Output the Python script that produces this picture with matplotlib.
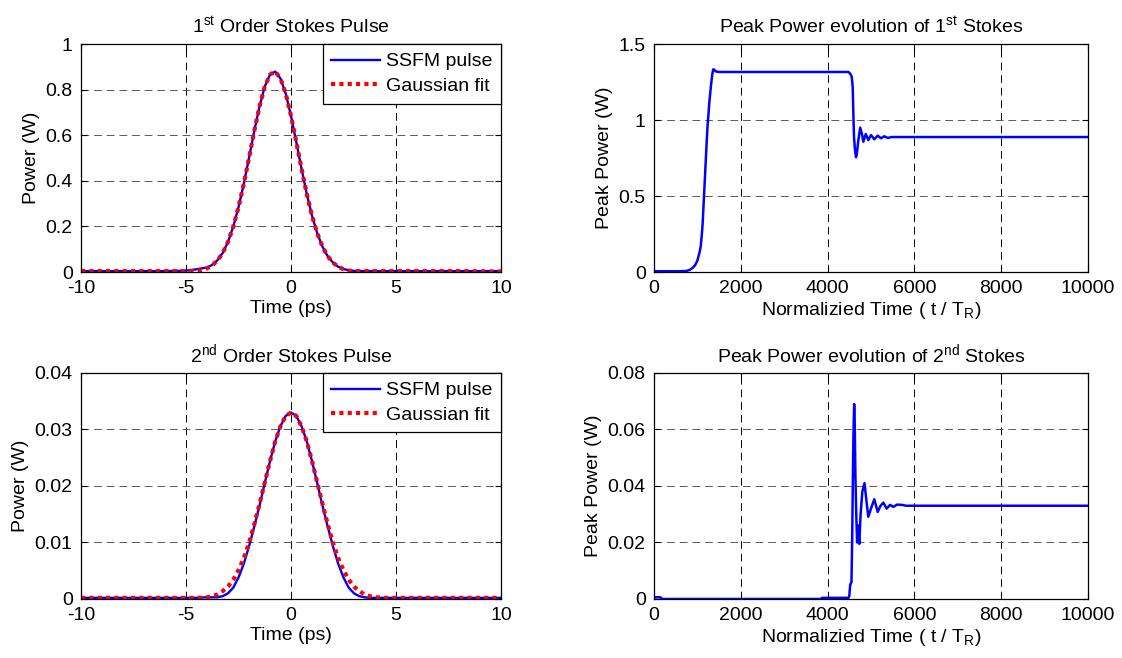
import numpy as np
import matplotlib
matplotlib.use("Agg")
import matplotlib.pyplot as plt

plt.rcParams['font.family'] = ['Liberation Sans', 'DejaVu Sans']
plt.rcParams['mathtext.default'] = 'regular'
plt.rcParams['font.size'] = 14

# ---- 1st order Stokes pulse (ps, W) ----
t1 = [-10, -9, -8, -7, -6, -5, -4.5, -4.25, -4, -3.75, -3.5, -3.25, -3, -2.75,
      -2.5, -2.25, -2, -1.75, -1.5, -1.25, -1, -0.75, -0.5, -0.25, 0, 0.25, 0.5,
      0.75, 1, 1.25, 1.5, 1.75, 2, 2.25, 2.5, 2.75, 3, 3.5, 4, 5, 6, 7, 8, 9, 10]
ssfm1 = [0.004, 0.004, 0.004, 0.004, 0.004, 0.006, 0.012, 0.016, 0.02, 0.031, 0.052,
         0.084, 0.132, 0.199, 0.284, 0.386, 0.50, 0.618, 0.726, 0.813, 0.866, 0.879,
         0.849, 0.782, 0.685, 0.571, 0.454, 0.343, 0.247, 0.170, 0.111, 0.069, 0.041,
         0.023, 0.013, 0.008, 0.005, 0.004, 0.004, 0.004, 0.004, 0.004, 0.004, 0.004, 0.004]
fit1 = [0.004, 0.004, 0.004, 0.004, 0.004, 0.004, 0.004, 0.008, 0.016, 0.029, 0.051,
        0.084, 0.132, 0.199, 0.284, 0.386, 0.50, 0.618, 0.726, 0.813, 0.866, 0.879,
        0.849, 0.782, 0.685, 0.571, 0.454, 0.343, 0.247, 0.170, 0.111, 0.069, 0.041,
        0.023, 0.012, 0.006, 0.004, 0.004, 0.004, 0.004, 0.004, 0.004, 0.004, 0.003, 0.002]

# ---- 2nd order Stokes pulse (ps, W) ----
t2 = [-10, -8, -6, -5, -4.5, -4, -3.75, -3.5, -3.25, -3, -2.75, -2.5, -2.25, -2,
      -1.75, -1.5, -1.25, -1, -0.75, -0.5, -0.25, 0, 0.25, 0.5, 0.75, 1, 1.25, 1.5,
      1.75, 2, 2.25, 2.5, 2.75, 3, 3.25, 3.5, 3.75, 4, 4.5, 5, 6, 8, 10]
ssfm2 = [0.0002, 0.0002, 0.0002, 0.0002, 0.0002, 0.0003, 0.0003, 0.0003, 0.0005, 0.0010,
         0.0020, 0.0038, 0.0062, 0.0093, 0.0128, 0.0165, 0.0205, 0.0244, 0.0279, 0.0306,
         0.0324, 0.0330, 0.0324, 0.0306, 0.0279, 0.0244, 0.0205, 0.0165, 0.0128, 0.0093,
         0.0062, 0.0038, 0.0020, 0.0010, 0.0005, 0.0003, 0.0002, 0.0002, 0.0002, 0.0002,
         0.0002, 0.0002, 0.0002]
fit2 = [0.0002, 0.0002, 0.0002, 0.0002, 0.0002, 0.0003, 0.0005, 0.0008, 0.0014, 0.0022,
        0.0034, 0.0051, 0.0072, 0.0099, 0.0132, 0.0168, 0.0206, 0.0244, 0.0279, 0.0306,
        0.0324, 0.0330, 0.0324, 0.0306, 0.0279, 0.0244, 0.0206, 0.0168, 0.0132, 0.0099,
        0.0072, 0.0051, 0.0034, 0.0022, 0.0014, 0.0008, 0.0005, 0.0003, 0.0002, 0.0002,
        0.0002, 0.0002, 0.0002]

# ---- peak power evolution, 1st Stokes ----
n1 = [0, 600, 750, 830, 900, 945, 1000, 1021, 1050, 1075, 1100, 1121, 1152, 1190,
      1229, 1275, 1313, 1344, 1367, 1390, 1421, 1500, 4480, 4520, 4555, 4578, 4593,
      4608, 4631, 4655, 4675, 4705, 4750, 4790, 4823, 4878, 4938, 5000, 5076, 5154,
      5230, 5307, 5384, 5476, 5553, 10000]
peak1 = [0.005, 0.005, 0.007, 0.015, 0.03, 0.044, 0.075, 0.10, 0.13, 0.166, 0.24,
         0.32, 0.50, 0.72, 0.94, 1.117, 1.228, 1.305, 1.334, 1.33, 1.32, 1.316, 1.316,
         1.305, 1.285, 1.219, 1.044, 0.89, 0.803, 0.755, 0.78, 0.86, 0.95, 0.91, 0.857,
         0.908, 0.868, 0.901, 0.873, 0.897, 0.88, 0.893, 0.882, 0.888, 0.888, 0.888]

# ---- peak power evolution, 2nd Stokes ----
n2 = [0, 150, 180, 3850, 3870, 4480, 4500, 4520, 4550, 4565, 4580, 4595, 4612, 4625,
      4640, 4660, 4680, 4700, 4730, 4760, 4800, 4850, 4900, 4938, 5000, 5076, 5154,
      5220, 5284, 5361, 5440, 5515, 5600, 5722, 5800, 10000]
peak2 = [0.0006, 0.0006, 0.0, 0.0, 0.0004, 0.0004, 0.001, 0.005, 0.006, 0.020, 0.040,
         0.058, 0.069, 0.062, 0.044, 0.030, 0.020, 0.026, 0.0195, 0.030, 0.038, 0.041,
         0.034, 0.0291, 0.032, 0.0353, 0.0308, 0.033, 0.0341, 0.032, 0.0333, 0.0326,
         0.0334, 0.0333, 0.0330, 0.0330]

pulse_xticks = [-10, -5, 0, 5, 10]
pulse_xlabels = ['-10', '-5', '0', '5', '10']
p1_yticks = [0, 0.2, 0.4, 0.6, 0.8, 1]
p1_ylabels = ['0', '0.2', '0.4', '0.6', '0.8', '1']
p2_yticks = [0, 0.01, 0.02, 0.03, 0.04]
p2_ylabels = ['0', '0.01', '0.02', '0.03', '0.04']
evo_xticks = [0, 2000, 4000, 6000, 8000, 10000]
evo_xlabels = ['0', '2000', '4000', '6000', '8000', '10000']
e1_yticks = [0, 0.5, 1, 1.5]
e1_ylabels = ['0', '0.5', '1', '1.5']
e2_yticks = [0, 0.02, 0.04, 0.06, 0.08]
e2_ylabels = ['0', '0.02', '0.04', '0.06', '0.08']

fig = plt.figure(figsize=(11.22, 6.58), dpi=100)
ax1 = fig.add_axes([0.0722, 0.5866, 0.3743, 0.3465])
ax2 = fig.add_axes([0.5829, 0.5866, 0.3868, 0.3465])
ax3 = fig.add_axes([0.0722, 0.0897, 0.3743, 0.3435])
ax4 = fig.add_axes([0.5829, 0.0897, 0.3868, 0.3435])


def style(ax, xt, xl, yt, yl):
    ax.set_xticks(xt)
    ax.set_xticklabels(xl)
    ax.set_yticks(yt)
    ax.set_yticklabels(yl)
    ax.set_xlim(xt[0], xt[-1])
    ax.set_ylim(yt[0], yt[-1])
    ax.tick_params(direction='in', length=4, width=0.8, top=True, right=True, pad=6)
    ax.xaxis.grid(True, color='black', linestyle=(0, (8, 5)), linewidth=0.7)
    ax.yaxis.grid(True, color='0.35', linestyle=(0, (8, 5)), linewidth=0.7)
    for s in ax.spines.values():
        s.set_linewidth(0.9)


def pulse(ax, t_s, p_s, t_f, p_f):
    ax.plot(t_s, p_s, color='blue', lw=1.7, label='SSFM pulse')
    ax.plot(t_f, p_f, color='red', lw=3.0, linestyle=(0, (1.0, 1.0)), label='Gaussian fit')
    leg = ax.legend(loc='upper right', fancybox=False, edgecolor='black', framealpha=1,
                    borderaxespad=0, handlelength=2.5, handletextpad=0.3,
                    borderpad=0.45, labelspacing=0.35)
    leg.get_frame().set_linewidth(0.9)


pulse(ax1, t1, ssfm1, t1, fit1)
style(ax1, pulse_xticks, pulse_xlabels, p1_yticks, p1_ylabels)
ax1.set_title('1$^{st}$ Order Stokes Pulse', fontsize=14, pad=8)
ax1.set_xlabel('Time (ps)', labelpad=2)
ax1.set_ylabel('Power (W)')

pulse(ax3, t2, ssfm2, t2, fit2)
style(ax3, pulse_xticks, pulse_xlabels, p2_yticks, p2_ylabels)
ax3.set_title('2$^{nd}$ Order Stokes Pulse', fontsize=14, pad=8)
ax3.set_xlabel('Time (ps)', labelpad=2)
ax3.set_ylabel('Power (W)')

ax2.plot(n1, peak1, color='blue', lw=1.8)
style(ax2, evo_xticks, evo_xlabels, e1_yticks, e1_ylabels)
ax2.set_title('Peak Power evolution of 1$^{st}$ Stokes', fontsize=14, pad=8)
ax2.set_xlabel('Normalizied Time ( t / T$_R$)', labelpad=2)
ax2.set_ylabel('Peak Power (W)')

ax4.plot(n2, peak2, color='blue', lw=1.8)
style(ax4, evo_xticks, evo_xlabels, e2_yticks, e2_ylabels)
ax4.set_title('Peak Power evolution of 2$^{nd}$ Stokes', fontsize=14, pad=8)
ax4.set_xlabel('Normalizied Time ( t / T$_R$)', labelpad=2)
ax4.set_ylabel('Peak Power (W)')

fig.savefig('out.png', dpi=100)
